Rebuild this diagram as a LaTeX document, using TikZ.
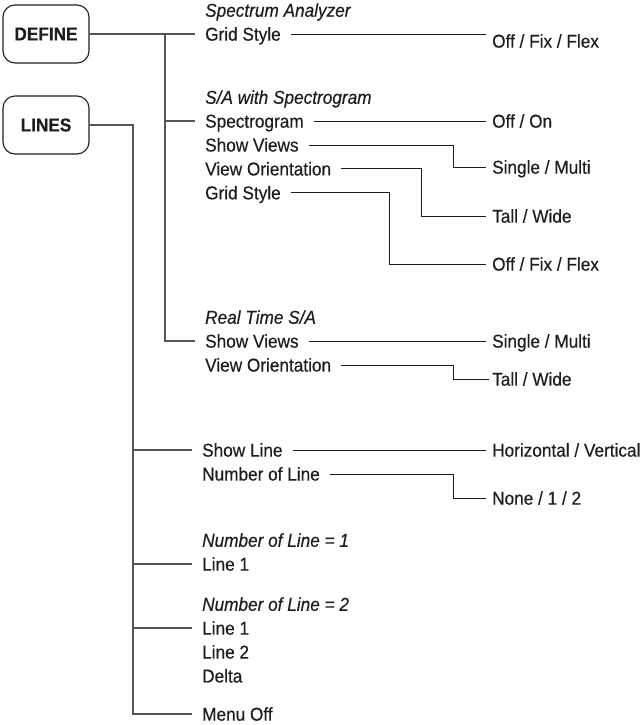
\documentclass[tikz,border=0pt]{standalone}
\usepackage{fontspec}
\setmainfont{Liberation Sans}[FakeStretch=0.925,FakeBold=0.4]
\usepackage{tikz}
\usetikzlibrary{positioning}
\definecolor{ink}{HTML}{1E1E1E}
\definecolor{rule}{HTML}{555555}
\newcommand{\menusize}{\fontsize{18.6}{21}\selectfont}
\tikzset{softkey/.style={draw=ink,line width=1.1pt,rounded corners=12pt,minimum width=86pt,minimum height=58pt,font=\menusize\bfseries,text=ink},entry/.style={anchor=west,inner xsep=10pt,inner ysep=0pt,text height=13.3pt,text depth=0pt,font=\menusize,text=ink},heading/.style={entry,font=\menusize\itshape},choice/.style={entry,inner xsep=6pt},trunk/.style={draw=rule,line width=1.3pt},wire/.style={draw=ink,line width=0.8pt}}

\begin{document}
\begin{tikzpicture}[x=1pt,y=-1pt,node distance=10.2pt]
\useasboundingbox (0,0) rectangle (644,725);
\node[softkey] (define) at (46,34) {DEFINE};
\node[softkey] (lines) at (46,125) {LINES};
\coordinate (dfork) at (165,0);
\coordinate (lfork) at (133,0);
\coordinate (brkA) at (453,0);
\coordinate (brkB) at (421,0);
\coordinate (brkC) at (389,0);
\node[entry] (gridA) at (195,34) {Grid Style};
\node[heading,above=of gridA.north west,anchor=south west] (specan) {Spectrum Analyzer};
\node[entry] (sgram) at (195,121) {Spectrogram};
\node[heading,above=of sgram.north west,anchor=south west] (sawith) {S/A with Spectrogram};
\node[entry,below=of sgram.south west,anchor=north west] (viewsA) {Show Views};
\node[entry,below=of viewsA.south west,anchor=north west] (orientA) {View Orientation};
\node[entry,below=of orientA.south west,anchor=north west] (gridB) {Grid Style};
\node[entry] (viewsB) at (195,341) {Show Views};
\node[heading,above=of viewsB.north west,anchor=south west] (realtime) {Real Time S/A};
\node[entry,below=of viewsB.south west,anchor=north west] (orientB) {View Orientation};
\node[entry] (showline) at (192,450) {Show Line};
\node[entry,below=of showline.south west,anchor=north west] (numline) {Number of Line};
\node[entry] (lineA) at (192,564) {Line 1};
\node[heading,above=of lineA.north west,anchor=south west] (numone) {Number of Line = 1};
\node[entry] (lineB) at (192,628) {Line 1};
\node[heading,above=of lineB.north west,anchor=south west] (numtwo) {Number of Line = 2};
\node[entry,below=of lineB.south west,anchor=north west] (lineC) {Line 2};
\node[entry,below=of lineC.south west,anchor=north west] (delta) {Delta};
\node[entry] (menuoff) at (192,714) {Menu Off};
\node[choice] (offflexA) at (486,41) {Off / Fix / Flex};
\node[choice] (offon) at (486,121) {Off / On};
\node[choice] (singleA) at (486,167) {Single / Multi};
\node[choice] (tallA) at (486,216) {Tall / Wide};
\node[choice] (offflexB) at (486,264) {Off / Fix / Flex};
\node[choice] (singleB) at (486,341) {Single / Multi};
\node[choice,inner xsep=3pt] (tallB) at (489,379) {Tall / Wide};
\node[choice] (horvert) at (486,450) {Horizontal / Vertical};
\node[choice] (nonetwo) at (486,498) {None / 1 / 2};
\draw[trunk] (define.east) -- (gridA.west);
\draw[trunk] (define.east -| dfork) |- (viewsB.west);
\draw[trunk] (dfork |- sgram.west) -- (sgram.west);
\draw[trunk] (lines.east) -| (lfork |- menuoff.west) -- (menuoff.west);
\draw[trunk] (lfork |- showline.west) -- (showline.west);
\draw[trunk] (lfork |- lineA.west) -- (lineA.west);
\draw[trunk] (lfork |- lineB.west) -- (lineB.west);
\draw[wire] (gridA.east) -- (gridA.east -| offflexA.west);
\draw[wire] (sgram.east) -- (offon.west);
\draw[wire] (viewsA.east) -| (brkA |- singleA.west) -- (singleA.west);
\draw[wire] (orientA.east) -| (brkB |- tallA.west) -- (tallA.west);
\draw[wire] (gridB.east) -| (brkC |- offflexB.west) -- (offflexB.west);
\draw[wire] (viewsB.east) -- (singleB.west);
\draw[wire] (orientB.east) -| (brkA |- tallB.west) -- (tallB.west);
\draw[wire] (showline.east) -- (horvert.west);
\draw[wire] (numline.east) -| (brkA |- nonetwo.west) -- (nonetwo.west);
\end{tikzpicture}
\end{document}
